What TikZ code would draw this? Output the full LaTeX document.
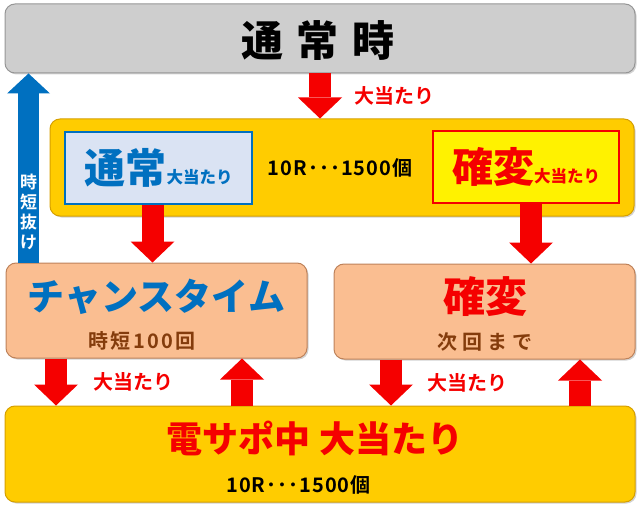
\documentclass[tikz,border=0pt]{standalone}
\usepackage{fontspec}
\setmainfont{Noto Sans CJK JP}[BoldFont={Noto Sans CJK JP Bold}]
\newfontfamily\heavy{Noto Sans CJK JP Black}
\usetikzlibrary{arrows.meta,shadows,positioning}

\definecolor{boxgray}{RGB}{206,206,206}
\definecolor{edgegray}{RGB}{150,150,150}
\definecolor{gold}{RGB}{255,204,0}
\definecolor{edgegold}{RGB}{214,160,0}
\definecolor{paleblue}{RGB}{218,227,243}
\definecolor{textblue}{RGB}{0,112,192}
\definecolor{peach}{RGB}{250,190,145}
\definecolor{edgepeach}{RGB}{190,130,90}
\definecolor{brown}{RGB}{132,60,12}
\definecolor{arrowred}{RGB}{245,0,0}

\begin{document}
\begin{tikzpicture}[x=1pt,y=-1pt,
  box/.style={rounded corners=10pt, line width=1pt, inner sep=0pt,
    drop shadow={opacity=0.35,shadow xshift=1.5pt,shadow yshift=-1.5pt}},
  grayBox/.style={box, fill=boxgray, draw=edgegray},
  goldBox/.style={box, fill=gold, draw=edgegold},
  peachBox/.style={box, fill=peach, draw=edgepeach},
  redarrow/.style={draw=arrowred, line width=22pt,
    -{Triangle[width=44pt,length=21pt,line width=0pt]}},
  bluearrow/.style={draw=textblue, line width=21pt,
    -{Triangle[width=43pt,length=20pt,line width=0pt]}},
  lbl/.style={text=arrowred, inner sep=0pt, font={\fontsize{20}{20}\selectfont\bfseries}},
  big/.style={inner sep=0pt, font={\fontsize{#1}{#1}\selectfont\heavy}},
  small/.style={inner sep=0pt, font={\fontsize{20}{20}\selectfont\bfseries\addfontfeature{LetterSpace=#1}}},
  small/.default=0,
]
\useasboundingbox (0,0) rectangle (640,508);

% boxes
\node[grayBox, minimum width=630pt, minimum height=69pt] (topbox) at (320,38.5) {};
\node[goldBox, minimum width=584pt, minimum height=97pt] (bigwin) at (342,167.5) {};
\node[peachBox, minimum width=301pt, minimum height=95pt] (chance) at (156.5,310.5) {};
\node[peachBox, minimum width=301pt, minimum height=95pt] (kakuhen) at (484.5,311.5) {};
\node[goldBox, minimum width=630pt, minimum height=96pt] (densapo) at (320,454) {};

\node[draw=textblue, line width=1.2pt, fill=paleblue, inner sep=0pt,
  minimum width=187pt, minimum height=72pt, text=textblue, font=\heavy] (nbox) at (158.5,168)
  {{\fontsize{41}{41}\selectfont 通常}{\fontsize{16.5}{16.5}\selectfont 大当たり}};
\node[draw=arrowred, line width=1.2pt, fill=yellow, inner sep=0pt,
  minimum width=186pt, minimum height=72pt, text=arrowred, font=\heavy] (kbox) at (526,167)
  {{\fontsize{41}{41}\selectfont 確変}{\fontsize{16.5}{16.5}\selectfont 大当たり}};

% texts
\node[big=42] (title) at (318,41) {通\hspace{14pt}常\hspace{14pt}時};
\node[small=5] (bigwinT) at (340,167.5) {10R･･･1500個};
\node[big=37, text=textblue] (chanceT) at (156.5,296.5) {チャンスタイム};
\node[small=12, text=brown] (chanceS) at (142,341) {時短100回};
\node[big=42, text=arrowred] (kakuhenT) at (485,296.5) {確変};
\node[small, text=brown] (kakuhenS) at (484.5,341.5) {次\hspace{5pt}回\hspace{5pt}ま\hspace{5pt}で};
\node[big=36, text=arrowred] (densapoT) at (315,438.5) {電サポ中 大当たり};
\node[small=5] (densapoS) at (298.5,485) {10R･･･1500個};

% arrows
\coordinate (bluex) at (28.5,0);
\draw[bluearrow] (chance.north -| bluex) -- node[pos=0.27, text=white, align=center, inner sep=0pt,
  font={\fontsize{17}{20}\selectfont\bfseries}] (jitan) {時\\短\\抜\\け} (topbox.south -| bluex);

\draw[redarrow] (topbox.south) -- node[lbl, right=23pt] (lblTop) {大当たり} (topbox.south |- bigwin.north);
\draw[redarrow] ([xshift=-6pt]nbox.south) -- ([xshift=-6pt]nbox.south |- chance.north);
\draw[redarrow] ([xshift=5pt]kbox.south) -- ([xshift=5pt]kbox.south |- kakuhen.north);

\draw[redarrow] ([xshift=-100.5pt]chance.south) -- node[lbl, right=26pt] (lblChance) {大当たり}
  ([xshift=-100.5pt]chance.south |- densapo.north);
\draw[redarrow] ([xshift=85.5pt]chance.south |- densapo.north) -- ([xshift=85.5pt]chance.south);
\draw[redarrow] ([xshift=-93.5pt]kakuhen.south) -- node[lbl, right=25pt] (lblKakuhen) {大当たり}
  ([xshift=-93.5pt]kakuhen.south |- densapo.north);
\draw[redarrow] ([xshift=95.5pt]kakuhen.south |- densapo.north) -- ([xshift=95.5pt]kakuhen.south);
\end{tikzpicture}
\end{document}
